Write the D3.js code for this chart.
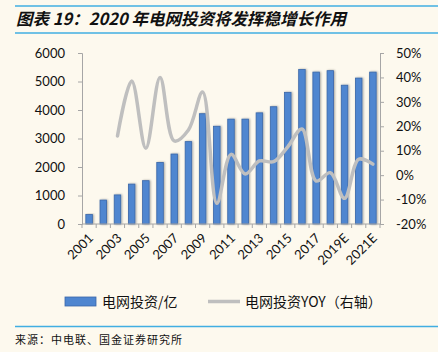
<!DOCTYPE html>
<html>
<head>
<meta charset="utf-8">
<script src="https://cdn.jsdelivr.net/npm/d3@7"></script>
<style>
  html, body { margin: 0; padding: 0; background: #fdf9ee; }
  svg { display: block; }
</style>
</head>
<body>
<div id="chart"></div>
<script>
// 2020年电网投资 — bars (亿元, left axis) + smoothed YOY line (right axis)

const years = ["2001", "2002", "2003", "2004", "2005", "2006", "2007", "2008", "2009", "2010",
  "2011", "2012", "2013", "2014", "2015", "2016", "2017", "2018", "2019E", "2020E", "2021E"];

const investment = [330, 840, 1020, 1400, 1520, 2160, 2455, 2890, 3870, 3430,
  3680, 3680, 3900, 4115, 4620, 5420, 5330, 5380, 4870, 5120, 5330];

// YOY in %, no value for the first two years
const yoy = [null, null, 16, 38.5, 11, 40, 14, 18.5, 34, -11.5,
  8.5, 0.5, 5.8, 5.5, 11.6, 18.9, -2.4, 1, -9.5, 6.5, 4.5];

const leftTicks = [0, 1000, 2000, 3000, 4000, 5000, 6000];
const rightTicks = [-20, -10, 0, 10, 20, 30, 40, 50];
const shownLabels = ["2001", "2003", "2005", "2007", "2009", "2011", "2013", "2015", "2017", "2019E", "2021E"];

const title = "图表 19：2020 年电网投资将发挥稳增长作用";
const source = "来源：中电联、国金证券研究所";
const legendBar = "电网投资/亿";
const legendLine = "电网投资YOY（右轴）";

const width = 438, height = 352;
const margin = { top: 53, right: 58, bottom: 128, left: 82 };
const innerW = width - margin.left - margin.right;   // 298
const innerH = height - margin.top - margin.bottom;  // 171

const axisColor = "#a6a6a6";
const barColor = "#4f86d0";
const barStroke = "#3a67a8";
const lineColor = "#bfbfbf";
const ruleColor = "#41aee2";
const numFont = "Lato, 'Open Sans', sans-serif";
const cjkFont = "'Noto Sans CJK SC', sans-serif";

const svg = d3.select("#chart").append("svg")
  .attr("width", width)
  .attr("height", height)
  .attr("viewBox", [0, 0, width, height]);

svg.append("rect").attr("width", width).attr("height", height).attr("fill", "#fdf9ee");

// title + rules
svg.append("line").attr("x1", 15).attr("x2", width).attr("y1", 6).attr("y2", 6)
  .attr("stroke", ruleColor).attr("stroke-width", 1.5);
svg.append("text")
  .attr("x", 16).attr("y", 25)
  .attr("font-family", cjkFont)
  .attr("font-size", 16.5)
  .attr("font-weight", 700)
  .attr("font-style", "italic")
  .attr("fill", "#111")
  .text(title);
svg.append("line").attr("x1", 15).attr("x2", width).attr("y1", 33).attr("y2", 33)
  .attr("stroke", ruleColor).attr("stroke-width", 1.5);

const g = svg.append("g").attr("transform", `translate(${margin.left},${margin.top})`);

const x = d3.scaleBand().domain(years).range([0, innerW]).padding(0);
const yL = d3.scaleLinear().domain([0, 6000]).range([innerH, 0]);
const yR = d3.scaleLinear().domain([-20, 50]).range([innerH, 0]);

// bar shadow
const defs = svg.append("defs");
defs.append("filter").attr("id", "shadow").attr("x", "-50%").attr("width", "200%")
  .html('<feGaussianBlur in="SourceAlpha" stdDeviation="0.8"/>' +
    '<feOffset dx="1" dy="0" result="ob"/>' +
    '<feComponentTransfer><feFuncA type="linear" slope="0.35"/></feComponentTransfer>' +
    '<feMerge><feMergeNode/><feMergeNode in="SourceGraphic"/></feMerge>');

const barW = x.bandwidth() * 0.46;
g.append("g").selectAll("rect")
  .data(years.map((y, i) => ({ year: y, value: investment[i] })))
  .join("rect")
  .attr("x", d => x(d.year) + (x.bandwidth() - barW) / 2)
  .attr("y", d => yL(d.value))
  .attr("width", barW)
  .attr("height", d => innerH - yL(d.value))
  .attr("fill", barColor)
  .attr("stroke", barStroke)
  .attr("stroke-width", 0.8)
  .attr("filter", "url(#shadow)");

// axes
const leftAxis = g.append("g")
  .call(d3.axisLeft(yL).tickValues(leftTicks).tickSize(4).tickPadding(13).tickFormat(d3.format("d")));
const rightAxis = g.append("g").attr("transform", `translate(${innerW},0)`)
  .call(d3.axisRight(yR).tickValues(rightTicks).tickSize(4).tickPadding(12).tickFormat(d => d + "%"));

// x axis: ticks at category boundaries
const xAxis = g.append("g").attr("transform", `translate(0,${innerH})`);
xAxis.append("line").attr("x1", 0).attr("x2", innerW).attr("stroke", axisColor);
xAxis.selectAll(".bt")
  .data(years.concat(["end"]))
  .join("line")
  .attr("x1", (d, i) => i * x.step())
  .attr("x2", (d, i) => i * x.step())
  .attr("y1", 0).attr("y2", 4)
  .attr("stroke", axisColor);
xAxis.selectAll("text")
  .data(shownLabels)
  .join("text")
  .attr("transform", d => `translate(${x(d) + x.bandwidth() / 2 + 5},${15}) rotate(-45)`)
  .attr("text-anchor", "end")
  .attr("font-family", numFont)
  .attr("font-size", 13)
  .attr("fill", "#111")
  .text(d => d);

[leftAxis, rightAxis].forEach(a => {
  a.select(".domain").attr("stroke", axisColor);
  a.selectAll(".tick line").attr("stroke", axisColor);
  a.selectAll(".tick text")
    .attr("font-family", numFont)
    .attr("font-size", 13)
    .attr("fill", "#111");
});

// YOY line
const line = d3.line()
  .defined(d => d.v !== null)
  .x(d => x(d.year) + x.bandwidth() / 2)
  .y(d => yR(d.v))
  .curve(d3.curveCatmullRom.alpha(0.5));

g.append("path")
  .datum(years.map((y, i) => ({ year: y, v: yoy[i] })).filter(d => d.v !== null))
  .attr("d", line)
  .attr("fill", "none")
  .attr("stroke", lineColor)
  .attr("stroke-width", 3.5)
  .attr("stroke-linecap", "round")
  .attr("stroke-linejoin", "round");

// legend
const lg = svg.append("g");
lg.append("rect").attr("x", 65).attr("y", 297).attr("width", 31).attr("height", 9)
  .attr("fill", barColor).attr("stroke", barStroke).attr("stroke-width", 0.8);
lg.append("text").attr("x", 102).attr("y", 307)
  .attr("font-family", cjkFont).attr("font-size", 14).attr("fill", "#111")
  .text(legendBar);
lg.append("line").attr("x1", 208).attr("x2", 240).attr("y1", 301.5).attr("y2", 301.5)
  .attr("stroke", lineColor).attr("stroke-width", 3.5);
lg.append("text").attr("x", 245).attr("y", 307)
  .attr("font-family", cjkFont).attr("font-size", 14).attr("fill", "#111")
  .text(legendLine);

// source
svg.append("line").attr("x1", 15).attr("x2", width).attr("y1", 326.5).attr("y2", 326.5)
  .attr("stroke", ruleColor).attr("stroke-width", 1.5);
svg.append("text")
  .attr("x", 15).attr("y", 344)
  .attr("font-family", cjkFont)
  .attr("font-size", 11)
  .attr("letter-spacing", 1)
  .attr("fill", "#111")
  .text(source);
</script>
</body>
</html>
